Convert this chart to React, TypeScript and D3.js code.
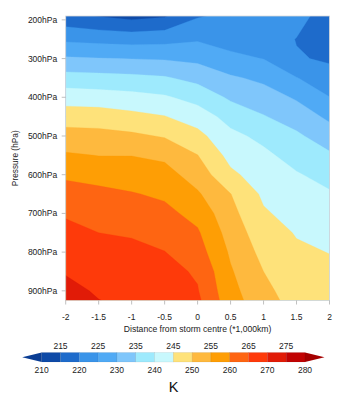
import React from "react";
import * as d3 from "d3";

// Distance from storm centre (*1,000 km) – grid columns
const distances = [-2, -1.5, -1, -0.5, 0, 0.5, 1, 1.5, 2];
// Pressure levels (hPa) – grid rows
const pressures = [190, 250, 300, 350, 400, 450, 500, 550, 600, 650, 700, 750, 800, 850, 900, 925];
// Temperature (K), one row per pressure level, one value per distance
const temperature: number[][] = [
  [216.5, 214.8, 213.5, 214.5, 219.6, 221.0, 221.5, 222.5, 216.5],
  [224.1, 223.5, 223.0, 223.4, 224.5, 223.4, 223.4, 219.8, 218.1],
  [230.6, 230.2, 229.9, 229.6, 228.8, 226.0, 224.9, 220.4, 219.4],
  [237.0, 236.6, 236.2, 235.5, 233.5, 230.7, 228.9, 225.2, 221.7],
  [242.7, 242.3, 241.6, 240.6, 238.2, 234.2, 232.3, 229.4, 225.1],
  [247.7, 247.5, 246.4, 245.2, 242.6, 238.2, 235.3, 232.8, 229.0],
  [251.9, 251.6, 250.9, 249.6, 246.5, 241.2, 238.8, 235.8, 232.5],
  [255.6, 254.9, 254.9, 254.0, 250.1, 243.4, 241.0, 238.2, 235.7],
  [259.2, 258.5, 257.7, 256.8, 252.8, 246.0, 242.6, 240.4, 238.4],
  [262.0, 261.1, 260.3, 259.2, 255.6, 250.1, 244.1, 241.8, 240.5],
  [264.5, 263.1, 262.4, 261.3, 258.4, 251.5, 245.6, 243.2, 242.0],
  [266.3, 265.0, 264.6, 263.2, 260.6, 252.9, 247.1, 244.7, 243.5],
  [267.9, 266.5, 266.0, 265.1, 262.2, 254.3, 248.5, 245.7, 244.9],
  [269.6, 267.9, 267.2, 266.5, 264.4, 255.5, 250.0, 246.6, 246.0],
  [271.5, 269.4, 268.4, 267.8, 265.3, 256.5, 251.3, 247.5, 247.0],
  [272.5, 270.1, 269.0, 268.5, 266.0, 257.0, 252.0, 248.0, 247.5],
];

const levels = [210, 215, 220, 225, 230, 235, 240, 245, 250, 255, 260, 265, 270, 275, 280];
const bandColors = [
  "#0e4aa7", "#1e6bcb", "#3a94e9", "#50aaf5", "#7fc6fb", "#9eeafd", "#c8f8fd",
  "#fee27a", "#feb93e", "#fe9e05", "#fe6512", "#fe3a0a", "#e11b07", "#c10303",
];
const underColor = "#0a3d94";
const overColor = "#a50000";

const xTicks = [-2, -1.5, -1, -0.5, 0, 0.5, 1, 1.5, 2];
const yTicks = [200, 300, 400, 500, 600, 700, 800, 900];
const cbTopLabels = [215, 225, 235, 245, 255, 265, 275];
const cbBottomLabels = [210, 220, 230, 240, 250, 260, 270, 280];

const FONT = "'Liberation Sans', Arial, Helvetica, sans-serif";

export default function App() {
  const W = 347;
  const H = 400;
  const left = 65.7, right = 329.5, top = 16, bottom = 300.5;
  const x = d3.scaleLinear().domain([-2, 2]).range([left, right]);
  const y = d3.scaleLinear().domain([190, 925]).range([top, bottom]);

  const nx = distances.length;
  const ny = pressures.length;
  const values = temperature.flat();
  const thresholds = levels.slice(1, levels.length - 1);
  const contours = d3.contours().size([nx, ny]).thresholds(thresholds)(values);

  const interp = (arr: number[], c: number) => {
    const f = Math.max(0, Math.min(arr.length - 1, c - 0.5));
    const i = Math.min(arr.length - 2, Math.floor(f));
    const t = f - i;
    return arr[i] + (arr[i + 1] - arr[i]) * t;
  };
  const mx = (c: number) => x(interp(distances, c));
  const my = (c: number) => y(interp(pressures, c));
  const toPath = (geom: any) =>
    geom.coordinates
      .map((poly: number[][][]) =>
        poly
          .map((ring) => "M" + ring.map((p) => `${mx(p[0]).toFixed(2)},${my(p[1]).toFixed(2)}`).join("L") + "Z")
          .join("")
      )
      .join("");

  const bandIndex = (v: number) => levels.indexOf(v);

  // colorbar
  const cbLeft = 41.7, cbRight = 305, cbTop = 352.5, cbBottom = 362;
  const cbX = d3.scaleLinear().domain([210, 280]).range([cbLeft, cbRight]);
  const cbMid = (cbTop + cbBottom) / 2;
  const triW = 19.5;

  return (
    <svg
      width={W}
      height={H}
      viewBox={`0 0 ${W} ${H}`}
      style={{ position: "absolute", left: 0, top: 0, background: "#fff" }}
      fontFamily={FONT}
    >
      <defs>
        <clipPath id="plotClip">
          <rect x={left} y={top} width={right - left} height={bottom - top} />
        </clipPath>
      </defs>
      <g clipPath="url(#plotClip)">
        <rect x={left} y={top} width={right - left} height={bottom - top} fill={bandColors[0]} />
        {contours.map((c: any, i: number) => (
          <path key={i} d={toPath(c)} fill={bandColors[bandIndex(c.value)]} fillRule="evenodd" stroke={bandColors[bandIndex(c.value)]} strokeWidth={0.3} />
        ))}
      </g>
      {/* frame */}
      <rect x={left} y={top} width={right - left} height={bottom - top} fill="none" stroke="#d9d9d9" strokeWidth={0.8} />

      {/* y axis */}
      {yTicks.map((t) => (
        <g key={t}>
          <line x1={left - 4} x2={left} y1={y(t)} y2={y(t)} stroke="#b0b0b0" strokeWidth={0.8} />
          <text x={left - 8.5} y={y(t)} dy="0.35em" textAnchor="end" fontSize={8.5} fill="#222">
            {t}hPa
          </text>
        </g>
      ))}
      <text
        transform={`translate(17.5,${(top + bottom) / 2}) rotate(-90)`}
        textAnchor="middle"
        fontSize={8.3}
        fill="#222"
      >
        Pressure (hPa)
      </text>

      {/* x axis */}
      {xTicks.map((t) => (
        <g key={t}>
          <line x1={x(t)} x2={x(t)} y1={bottom} y2={bottom + 4} stroke="#b0b0b0" strokeWidth={0.8} />
          <text x={x(t)} y={319.5} textAnchor="middle" fontSize={8.5} fill="#222">
            {t}
          </text>
        </g>
      ))}
      <text x={(left + right) / 2} y={331.5} textAnchor="middle" fontSize={8.6} fill="#222">
        Distance from storm centre (*1,000km)
      </text>

      {/* colorbar */}
      <polygon
        points={`${cbLeft},${cbTop} ${cbLeft},${cbBottom} ${cbLeft - triW},${cbMid}`}
        fill={underColor}
      />
      <polygon
        points={`${cbRight},${cbTop} ${cbRight},${cbBottom} ${cbRight + triW},${cbMid}`}
        fill={overColor}
      />
      {bandColors.map((col, i) => (
        <rect
          key={i}
          x={cbX(levels[i])}
          y={cbTop}
          width={cbX(levels[i + 1]) - cbX(levels[i])}
          height={cbBottom - cbTop}
          fill={col}
          stroke="rgba(0,0,0,0.12)"
          strokeWidth={0.5}
        />
      ))}
      {cbTopLabels.map((v) => (
        <text key={v} x={cbX(v)} y={349} textAnchor="middle" fontSize={8.5} fill="#222">
          {v}
        </text>
      ))}
      {cbBottomLabels.map((v) => (
        <text key={v} x={cbX(v)} y={372.5} textAnchor="middle" fontSize={8.5} fill="#222">
          {v}
        </text>
      ))}
      <text x={173.5} y={391.5} textAnchor="middle" fontSize={14.5} fill="#111">
        K
      </text>
    </svg>
  );
}
